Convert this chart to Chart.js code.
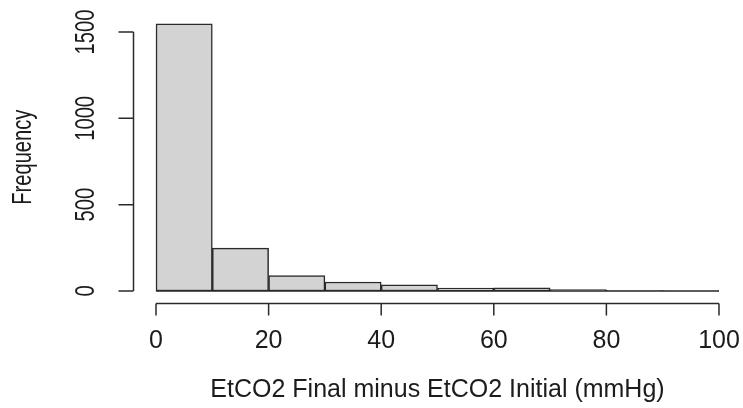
<!DOCTYPE html>
<html>
<head>
<meta charset="utf-8">
<script src="https://cdn.jsdelivr.net/npm/chart.js@4.4.1/dist/chart.umd.min.js"></script>
<style>
  html, body { margin: 0; padding: 0; background: #ffffff; }
  #wrap { width: 743px; height: 408px; }
</style>
</head>
<body>
<div id="wrap"><canvas id="c" width="743" height="408"></canvas></div>
<script>
// Histogram data
const binStarts = [0, 10, 20, 30, 40, 50, 60, 70, 80, 90];
const binWidth = 10;
const counts = [1548, 248, 90, 52, 36, 17, 18, 8, 2, 1];
const xTicks = [0, 20, 40, 60, 80, 100];
const yTicks = [0, 500, 1000, 1500];
const xTitle = 'EtCO2 Final minus EtCO2 Initial (mmHg)';
const yTitle = 'Frequency';

const points = binStarts.map((s, i) => ({ x: s + binWidth / 2, y: counts[i] }));

const FONT = 'Liberation Sans, Arial, sans-serif';
const INK = '#1c1c1c';
const LINE = '#2a2a2a';

const rAxes = {
  id: 'rAxes',
  afterDatasetsDraw(chart) {
    const ctx = chart.ctx;
    const xs = chart.scales.x, ys = chart.scales.y;
    const area = chart.chartArea;
    ctx.save();
    ctx.strokeStyle = LINE;
    ctx.lineWidth = 1.5;

    // baseline under bars (rect bottoms)
    ctx.beginPath();
    ctx.moveTo(xs.getPixelForValue(binStarts[0]), ys.getPixelForValue(0));
    ctx.lineTo(xs.getPixelForValue(binStarts[binStarts.length - 1] + binWidth), ys.getPixelForValue(0));
    ctx.stroke();

    // x axis
    const yAx = Math.round(area.bottom) + 0.5;
    ctx.beginPath();
    ctx.moveTo(xs.getPixelForValue(xTicks[0]), yAx);
    ctx.lineTo(xs.getPixelForValue(xTicks[xTicks.length - 1]), yAx);
    xTicks.forEach(t => {
      const px = xs.getPixelForValue(t);
      ctx.moveTo(px, yAx);
      ctx.lineTo(px, yAx + 12);
    });
    ctx.stroke();

    // y axis
    const xAx = Math.round(area.left) - 0.5;
    ctx.beginPath();
    ctx.moveTo(xAx, ys.getPixelForValue(yTicks[0]));
    ctx.lineTo(xAx, ys.getPixelForValue(yTicks[yTicks.length - 1]));
    yTicks.forEach(t => {
      const py = ys.getPixelForValue(t);
      ctx.moveTo(xAx, py);
      ctx.lineTo(xAx - 15, py);
    });
    ctx.stroke();

    ctx.fillStyle = INK;
    ctx.font = '25px ' + FONT;
    ctx.textAlign = 'center';
    ctx.textBaseline = 'middle';
    xTicks.forEach(t => {
      ctx.fillText(String(t), xs.getPixelForValue(t), 341);
    });
    ctx.fillText(xTitle, (xs.getPixelForValue(0) + xs.getPixelForValue(100)) / 2, 390);

    // rotated y labels
    ctx.font = '28px ' + FONT;
    yTicks.forEach(t => {
      ctx.save();
      ctx.translate(86, ys.getPixelForValue(t));
      ctx.rotate(-Math.PI / 2);
      ctx.scale(0.72, 1);
      ctx.fillText(String(t), 0, 0);
      ctx.restore();
    });
    ctx.save();
    ctx.translate(23, (area.top + area.bottom) / 2);
    ctx.rotate(-Math.PI / 2);
    ctx.scale(0.72, 1);
    ctx.fillText(yTitle, 0, 0);
    ctx.restore();

    ctx.restore();
  }
};

new Chart(document.getElementById('c'), {
  type: 'bar',
  data: {
    datasets: [{
      data: points,
      backgroundColor: '#d3d3d3',
      borderColor: LINE,
      borderWidth: 1.5,
      borderSkipped: false,
      barPercentage: 1,
      categoryPercentage: 1
    }]
  },
  options: {
    responsive: false,
    animation: false,
    devicePixelRatio: 1,
    layout: { padding: { left: 133.5, right: 1.5, top: 11.3, bottom: 104.9 } },
    plugins: { legend: { display: false }, tooltip: { enabled: false } },
    scales: {
      x: {
        type: 'linear', min: -4, max: 104, offset: false, display: false,
        afterBuildTicks: (scale) => { scale.ticks = xTicks.map(v => ({ value: v })); }
      },
      y: { type: 'linear', min: -70, max: 1620, display: false }
    }
  },
  plugins: [rAxes]
});
</script>
</body>
</html>
